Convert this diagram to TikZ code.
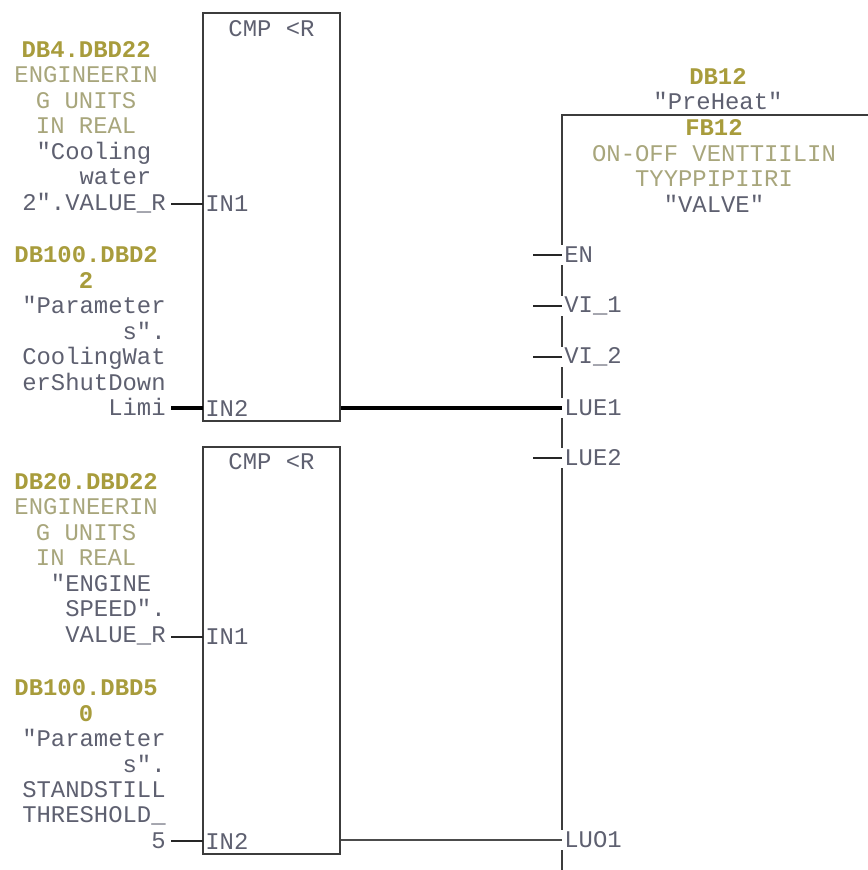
\documentclass[tikz,border=0pt]{standalone}
\usepackage{fontspec}
\setmainfont[Ligatures=TeXOff]{Liberation Mono}
\usetikzlibrary{positioning, calc}

\definecolor{addrcol}{HTML}{A89C3C}
\definecolor{notecol}{HTML}{A8A67C}
\definecolor{symcol}{HTML}{5E6070}
\definecolor{linecol}{HTML}{3C3C3C}

\newcommand{\addrline}[1]{\makebox[3.02cm][l]{\makebox[2.86cm][c]{\textcolor{addrcol}{\bfseries #1}}}}
\newcommand{\noteline}[1]{\makebox[3.02cm][l]{\makebox[2.86cm][c]{\textcolor{notecol}{#1}}}}

\begin{document}
\begin{tikzpicture}[
    x=0.02cm, y=-0.02cm,
    cmpbox/.style={rectangle, draw=linecol, line width=0.04cm, minimum width=2.74cm, minimum height=8.16cm, inner sep=0pt},
    tag/.style={inner sep=0pt, font=\fontsize{13.6}{14.5}\selectfont, text=symcol},
    operand/.style={tag, align=right, anchor=south east, inner xsep=0.1cm},
    pinlabel/.style={tag, anchor=west, minimum height=0.4cm, inner xsep=0.04cm},
    wire/.style={draw=black!85, line width=0.035cm},
    busbar/.style={draw=black, line width=0.065cm},
    frame/.style={draw=linecol, line width=0.045cm}
  ]
    \useasboundingbox (0,0) rectangle (868,870);
    % comparators
    \node[cmpbox] (cmpA) at (271.5,217) {};
    \node[cmpbox] (cmpB) at (271.5,650.5) {};
    \node[tag, below=0.16cm of cmpA.north] (cmpAname) {CMP <R};
    \node[tag, below=0.16cm of cmpB.north] (cmpBname) {CMP <R};
    \node[pinlabel] (inAone) at (203,204) {IN1};
    \node[pinlabel] (inAtwo) at (203,408) {IN2};
    \node[pinlabel] (inBone) at (203,637) {IN1};
    \node[pinlabel] (inBtwo) at (203,841) {IN2};
    % operands
    \node[operand] (opAone) at (171,213) {\addrline{DB4.DBD22}\\ \noteline{ENGINEERIN}\\ \noteline{G UNITS}\\ \noteline{IN REAL}\\ "Cooling\hphantom{x}\\ water\hphantom{x}\\ 2".VALUE\_R};
    \node[operand] (opAtwo) at (171,416) {\addrline{DB100.DBD2}\\ \addrline{2}\\ "Parameter\\ s".\\ CoolingWat\\ erShutDown\\ Limi};
    \node[operand] (opBone) at (171,645) {\addrline{DB20.DBD22}\\ \noteline{ENGINEERIN}\\ \noteline{G UNITS}\\ \noteline{IN REAL}\\ "ENGINE\hphantom{x}\\ SPEED".\\ VALUE\_R};
    \node[operand] (opBtwo) at (171,849) {\addrline{DB100.DBD5}\\ \addrline{0}\\ "Parameter\\ s".\\ STANDSTILL\\ THRESHOLD\_\\ 5};
    \draw[wire] (opAone.east |- inAone) -- (inAone.west);
    \draw[busbar] (opAtwo.east |- inAtwo) -- (inAtwo.west);
    \draw[wire] (opBone.east |- inBone) -- (inBone.west);
    \draw[wire] (opBtwo.east |- inBtwo) -- (inBtwo.west);
    % valve block
    \node[tag, align=center] (valveDb) at (718,89) {\textcolor{addrcol}{\bfseries DB12}\\ "PreHeat"};
    \node[tag, align=center] (valveFb) at (714,166) {\textcolor{addrcol}{\bfseries FB12}\\ \textcolor{notecol}{ON-OFF VENTTIILIN}\\ \textcolor{notecol}{TYYPPIPIIRI}\\ "VALVE"};
    \foreach \pinname/\pintext/\piny in {pinEn/EN/255, pinViOne/VI\_1/306, pinViTwo/VI\_2/357, pinLueOne/LUE1/408, pinLueTwo/LUE2/458, pinLuoOne/LUO1/840}
      \node[pinlabel] (\pinname) at (562,\piny) {\pintext};
    \foreach \pinname in {pinEn, pinViOne, pinViTwo, pinLueTwo}
      \draw[wire] ($(\pinname.west)-(29,0)$) -- (\pinname.west);
    \draw[busbar] (cmpA.east |- pinLueOne) -- (pinLueOne.west);
    \draw[wire, draw=black!70, line width=0.04cm] (cmpB.east |- pinLuoOne) -- (pinLuoOne.west);
    \coordinate (valveCorner) at (562,115);
    \coordinate (valveRight) at (868,115);
    \coordinate (valveFoot) at (562,870);
    \draw[frame] (valveRight) -- (valveCorner) -- (pinEn.north west);
    \draw[frame] (pinEn.south west) -- (pinViOne.north west);
    \draw[frame] (pinViOne.south west) -- (pinViTwo.north west);
    \draw[frame] (pinViTwo.south west) -- (pinLueOne.north west);
    \draw[frame] (pinLueOne.south west) -- (pinLueTwo.north west);
    \draw[frame] (pinLueTwo.south west) -- (pinLuoOne.north west);
    \draw[frame] (pinLuoOne.south west) -- (valveFoot);
  \end{tikzpicture}
\end{document}
